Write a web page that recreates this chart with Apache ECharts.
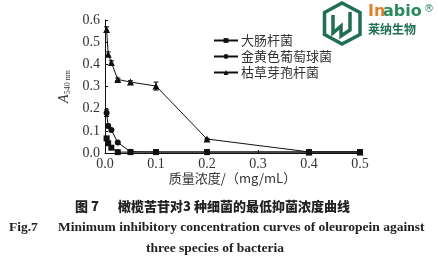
<!DOCTYPE html>
<html><head><meta charset="utf-8">
<script src="https://cdn.jsdelivr.net/npm/echarts@6/dist/echarts.min.js"></script>
<style>html,body{margin:0;padding:0;background:#fff}#c{width:439px;height:271px}</style>
</head><body><div id="c"></div>
<script>
// ---- data ----
const concentrations = [0.003125, 0.00625, 0.0125, 0.025, 0.05, 0.1, 0.2, 0.4, 0.5];
const seriesNames = ['大肠杆菌', '金黄色葡萄球菌', '枯草芽孢杆菌'];
const ecoli     = [0.066, 0.044, 0.024, 0.004, 0.004, 0.004, 0.004, 0.004, 0.004];
const saureus   = [0.180, 0.122, 0.104, 0.047, 0.006, 0.005, 0.005, 0.005, 0.005];
const bsubtilis = [0.557, 0.446, 0.408, 0.332, 0.320, 0.302, 0.063, 0.005, 0.005];
const ecoliErr     = [0.008, 0.006, 0.004, 0.002, 0.002, 0.002, 0.001, 0.001, 0.001];
const saureusErr   = [0.015, 0.008, 0.006, 0.004, 0.002, 0.002, 0.001, 0.001, 0.001];
const bsubtilisErr = [0.012, 0.010, 0.008, 0.006, 0.006, 0.018, 0.003, 0.002, 0.002];
const xTicks = [0, 0.1, 0.2, 0.3, 0.4, 0.5];
const yTicks = [0, 0.1, 0.2, 0.3, 0.4, 0.5, 0.6];
const xAxisTitle = '质量浓度/（mg/mL）';
const captionCN1 = '图 7';
const captionCN2 = '橄榄苦苷对3 种细菌的最低抑菌浓度曲线';
const captionEN1 = 'Fig.7';
const captionEN2 = 'Minimum inhibitory concentration curves of oleuropein against';
const captionEN3 = 'three species of bacteria';

const chart = echarts.init(document.getElementById('c'), null, {renderer: 'canvas'});
const pairs = arr => concentrations.map((x, i) => [x, arr[i]]);
const errData = (arr, err) => concentrations.map((x, i) => [x, arr[i] - err[i], arr[i] + err[i]]);
function errSeries(arr, err) {
  return {
    type: 'custom', silent: true, z: 3,
    data: errData(arr, err),
    renderItem: function (params, api) {
      const lo = api.coord([api.value(0), api.value(1)]);
      const hi = api.coord([api.value(0), api.value(2)]);
      const w = 2.5;
      const st = {stroke: '#000', lineWidth: 1};
      return {type: 'group', children: [
        {type: 'line', shape: {x1: lo[0], y1: lo[1], x2: hi[0], y2: hi[1]}, style: st},
        {type: 'line', shape: {x1: lo[0]-w, y1: lo[1], x2: lo[0]+w, y2: lo[1]}, style: st},
        {type: 'line', shape: {x1: hi[0]-w, y1: hi[1], x2: hi[0]+w, y2: hi[1]}, style: st}
      ]};
    }
  };
}
const symbols = ['rect', 'circle', 'triangle'];
const sizes = [6, 6, 7];
const vals = [ecoli, saureus, bsubtilis];
const errs = [ecoliErr, saureusErr, bsubtilisErr];
const series = [];
vals.forEach((v, k) => {
  series.push({
    name: seriesNames[k], type: 'line', data: pairs(v),
    symbol: symbols[k], symbolSize: sizes[k], showSymbol: true,
    lineStyle: {color: '#111', width: 1}, itemStyle: {color: '#111'},
    z: 4, animation: false
  });
  series.push(errSeries(v, errs[k]));
});

const serif = 'Liberation Serif';
const cjk = 'Noto Sans CJK SC';
chart.setOption({
  animation: false,
  backgroundColor: '#fff',
  grid: {left: 105, right: 79, top: 20, bottom: 118, containLabel: false},
  legend: {
    data: seriesNames, orient: 'vertical', left: 208, top: 29,
    itemWidth: 24, itemHeight: 6, itemGap: 3,
    textStyle: {fontFamily: cjk, fontSize: 13, color: '#333', padding: [0,0,0,-2]}
  },
  xAxis: {
    type: 'value', min: 0, max: 0.5, interval: 0.1,
    axisLine: {lineStyle: {color: '#111', width: 1}},
    axisTick: {inside: true, length: 3, lineStyle: {color: '#111'}},
    splitLine: {show: false},
    axisLabel: {fontFamily: serif, fontSize: 14, color: '#333', margin: 4,
      formatter: v => xTicks.includes(+v.toFixed(1)) ? v.toFixed(1) : ''},
    name: xAxisTitle, nameLocation: 'middle', nameGap: 19,
    nameTextStyle: {fontFamily: cjk, fontSize: 13, color: '#333'}
  },
  yAxis: {
    type: 'value', min: 0, max: 0.6, interval: 0.1,
    axisLine: {show: true, lineStyle: {color: '#111', width: 1}},
    axisTick: {show: true, inside: true, length: 3, lineStyle: {color: '#111'}},
    splitLine: {show: false},
    axisLabel: {fontFamily: serif, fontSize: 14, color: '#333', margin: 5,
      formatter: v => yTicks.includes(+v.toFixed(1)) ? v.toFixed(1) : ''},
    name: '{a|A}{s|540 nm}', nameLocation: 'middle', nameGap: 30, nameRotate: 90,
    nameTextStyle: {rich: {
      a: {fontFamily: serif, fontStyle: 'italic', fontSize: 14, color: '#333'},
      s: {fontFamily: serif, fontSize: 8, color: '#333', padding: [6,0,0,0]}
    }}
  },
  series: series,
  graphic: [
    {type: 'text', left: 75, top: 200, style: {text: captionCN1, font: '900 13px "Noto Sans CJK SC"', fill: '#222'}},
    {type: 'text', left: 118, top: 200, style: {text: captionCN2, font: '900 13px "Noto Sans CJK SC"', fill: '#222'}},
    {type: 'text', left: 9, top: 221, style: {text: captionEN1, font: 'bold 13.5px "Liberation Serif"', fill: '#222'}},
    {type: 'text', left: 58, top: 221, style: {text: captionEN2, font: 'bold 13.5px "Liberation Serif"', fill: '#222'}},
    {type: 'text', left: 146, top: 242, style: {text: captionEN3, font: 'bold 13.5px "Liberation Serif"', fill: '#222'}},
    // logo
    {type: 'polygon', shape: {points: [[342,3],[360,12.5],[360,34.5],[342,44],[324.5,34.5],[324.5,12.5]]},
      style: {fill: 'none', stroke: '#1f6e55', lineWidth: 3.5}},
    {type: 'polyline', shape: {points: [[333,15],[333,33],[341,26],[341,36],[350,30],[350,12]]},
      style: {fill: 'none', stroke: '#1f6e55', lineWidth: 3.5}},
    {type: 'text', left: 368, top: 4, style: {text: 'In', font: 'bold 16px "DejaVu Sans"', fill: '#e0802a'}},
    {type: 'text', left: 383, top: 4, style: {text: 'abio', font: 'bold 16px "DejaVu Sans"', fill: '#2a8a5c'}},
    {type: 'text', left: 424, top: 4, style: {text: '®', font: '10px "DejaVu Sans"', fill: '#2a8a5c'}},
    {type: 'text', left: 368, top: 23, style: {text: '莱纳生物', font: 'bold 12px "Noto Sans CJK SC"', fill: '#1f6e55'}}
  ]
});
</script></body></html>
